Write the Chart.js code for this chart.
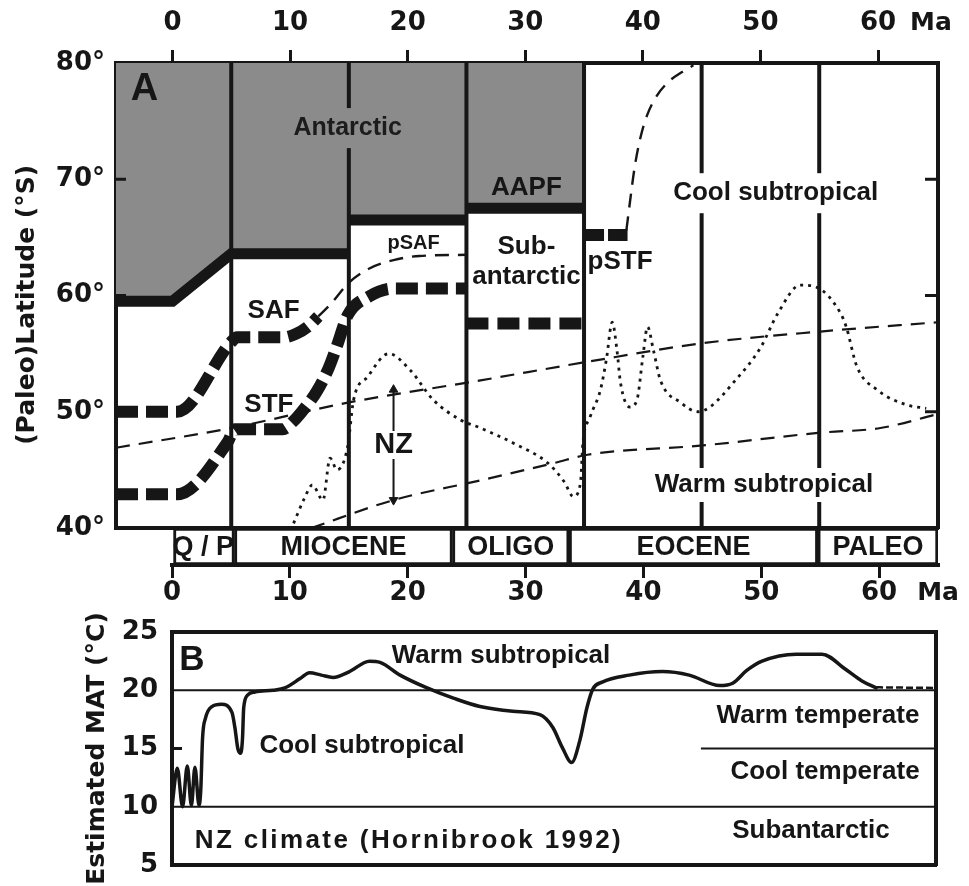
<!DOCTYPE html>
<html>
<head>
<meta charset="utf-8">
<title>Paleolatitude of Southern Ocean fronts and NZ climate</title>
<script src="https://cdn.jsdelivr.net/npm/chart.js@4.4.1/dist/chart.umd.min.js"></script>
<style>
  html, body { margin:0; padding:0; background:#fff; overflow:hidden; }
  #wrap { position:relative; width:969px; height:886px; overflow:hidden; background:#fff; }
  #wrap canvas { position:absolute; left:0; }
</style>
</head>
<body>
<div id="wrap">
  <canvas id="chartA" width="969" height="560" style="top:0px"></canvas>
  <canvas id="chartE" width="969" height="90" style="top:520px"></canvas>
  <canvas id="chartB" width="969" height="300" style="top:600px"></canvas>
</div>
<script>
// ================= DATA =================
// Panel A axes
const ageMinA = -4.8, ageMaxA = 65.1;
const topTicks = [0, 10, 20, 30, 40, 50, 60];
const latMin = 40, latMax = 80;
const latTicks = [40, 50, 60, 70, 80];
const zoneBoundAge = [5, 15, 25, 35, 45, 55];

// Antarctic water mass boundary (AAPF)
const antAge = [-4.8, 0, 5, 15, 15, 25, 25, 35];
const antLat = [59.5, 59.5, 63.6, 63.6, 66.5, 66.5, 67.5, 67.5];

// Subantarctic front (SAF)
const safAge = [-4.8, 0.4, 5.0, 5.5, 9.5, 10.5, 11.5, 12.4];
const safLat = [50.0, 50.0, 56.0, 56.4, 56.4, 56.7, 57.3, 58.2];
const saf2Age = [25, 35];
const saf2Lat = [57.6, 57.6];
// proto-SAF
const psafAge = [12.4, 13.4, 15.0, 16.7, 18.8, 21.0, 25.0];
const psafLat = [58.2, 59.2, 61.1, 62.3, 63.05, 63.4, 63.5];
// Subtropical front (STF)
const stfAge = [-4.8, 0.4, 4.7, 5.3, 9.4, 10.2, 11.0, 12.3, 13.3, 14.0, 14.9, 16.7, 18.8, 25.0];
const stfLat = [42.9, 42.9, 47.4, 48.5, 48.5, 49.1, 50.0, 51.8, 53.8, 55.7, 58.3, 59.9, 60.6, 60.6];
// proto-STF
const pstfAge = [35, 38.7];
const pstfLat = [65.2, 65.2];
const pstfThinAge = [38.6, 38.9, 39.3, 39.8, 40.4, 41.2, 42.2, 43.3, 44.3];
const pstfThinLat = [65.6, 68.0, 71.0, 73.6, 75.6, 77.2, 78.4, 79.2, 79.8];

// climate zone boundaries (thin dashed)
const upperAge = [-4.8, 5, 15, 26.2, 35.3, 45.1, 55.1, 65.1];
const upperLat = [46.9, 48.6, 50.8, 52.7, 54.3, 55.9, 56.9, 57.7];
const lowerAge = [11.8, 18.8, 26.2, 32.5, 35.3, 45.1, 55.1, 60.2, 65.1];
const lowerLat = [40.0, 42.4, 44.1, 45.6, 46.3, 47.1, 48.2, 48.6, 49.8];

// NZ paleolatitude (dotted)
const nzAge = [10.3, 11.2, 11.9, 12.8, 13.4, 14.0, 14.9, 15.4, 16.6, 18.4, 20.2, 22.2, 24.5, 26.2, 29.0, 31.9,
               33.3, 34.1, 34.7, 34.9, 35.5, 36.4, 36.9, 37.4, 37.8, 38.1, 38.9, 39.5, 40.0, 40.4, 40.9, 41.5,
               43.2, 44.7, 45.7, 47.7, 50.0, 51.5, 53.4, 54.8, 56.8, 57.3, 58.2, 59.9, 62.4, 64.1];
const nzLat = [40.4, 42.5, 43.7, 42.4, 46.0, 45.0, 47.0, 51.0, 53.0, 55.0, 53.6, 51.0, 49.3, 48.6, 47.3, 45.6,
               44.0, 42.7, 43.9, 47.3, 49.5, 51.9, 54.5, 57.7, 55.3, 52.5, 50.4, 51.0, 54.7, 57.3, 55.3, 52.7,
               50.8, 50.0, 50.4, 52.5, 55.5, 58.5, 60.9, 60.7, 58.5, 57.3, 53.9, 51.9, 50.6, 50.3];
// NZ span arrow
const nzArrowAge = [18.8, 18.8];
const nzArrowLat = [51.9, 42.4];

// Epochs
const epochName = ['Q / P', 'MIOCENE', 'OLIGO', 'EOCENE', 'PALEO'];
const epochStart = [0, 5.3, 23.8, 33.7, 54.8];
const epochEnd = [5.3, 23.8, 33.7, 54.8, 65];
const ageMinB = 0, ageMaxB = 65;

// Panel B
const matMin = 5, matMax = 25;
const matTicks = [5, 10, 15, 20, 25];
const classTemp = [20, 15, 10];
const classFrom = [0, 45, 0];
const matAge = [0, 0.45, 0.9, 1.3, 1.65, 1.95, 2.3, 2.45, 2.6, 2.85, 3.4, 4.2, 5.1, 5.35, 5.6, 5.85, 6.0, 6.1, 6.45, 7.05,
                8.6, 9.6, 10.9, 11.7, 12.7, 13.7, 15.1, 16.8, 17.7, 19.4, 21.7, 24.0, 26.2, 29.0, 31.3, 32.4, 33.2,
                34.0, 34.7, 35.3, 35.8, 36.6, 38.9, 41.7, 44.0, 46.6, 47.7, 48.9, 50.2, 53.1, 55.3, 57.3, 58.7, 59.9];
const matTemp = [10.0, 13.3, 10.0, 13.5, 10.1, 13.4, 10.1, 11.5, 15.9, 17.6, 18.6, 18.8, 18.1, 16.8, 15.0, 14.6, 15.9, 18.5, 19.6, 19.85,
                 20.0, 20.2, 21.0, 21.5, 21.3, 21.1, 21.6, 22.5, 22.4, 21.3, 20.2, 19.3, 18.6, 18.2, 17.9, 16.8, 15.1,
                 13.8, 15.7, 18.5, 20.1, 20.7, 21.3, 21.6, 21.3, 20.4, 20.6, 21.7, 22.5, 23.1, 23.1, 21.8, 20.8, 20.2];
const matTailAge = [59.9, 65];
const matTailTemp = [20.25, 20.2];

// ================= STYLE / HELPERS =================
const INK = '#161616';
const GRAY = '#8b8b8b';
const NUM_FONT = "'DejaVu Sans', sans-serif";
const WORD_FONT = "'Liberation Sans', Arial, Helvetica, sans-serif";
Chart.defaults.color = INK;
Chart.defaults.font.family = WORD_FONT;

function pts(xs, ys) { return xs.map((x, i) => ({ x: x, y: ys[i] })); }
function breakAtSteps(xs, ys) {
  const out = [];
  xs.forEach((x, i) => {
    if (i > 0 && x === xs[i - 1]) out.push({ x: x, y: null });
    out.push({ x: x, y: ys[i] });
  });
  return out;
}
function line(data, o) {
  return Object.assign({
    type: 'line', data: data, xAxisID: 'x', yAxisID: 'y',
    pointRadius: 0, pointHoverRadius: 0, fill: false,
    borderColor: INK, borderCapStyle: 'butt', borderJoinStyle: 'miter',
    cubicInterpolationMode: 'monotone', spanGaps: false
  }, o);
}

function annotate(items) {
  return {
    id: 'annotate',
    afterDatasetsDraw(chart) {
      const ctx = chart.ctx, xs = chart.scales.x, ys = chart.scales.y;
      items.forEach(it => {
        const px = xs.getPixelForValue(it.x), py = ys.getPixelForValue(it.y);
        ctx.save();
        ctx.font = 'bold ' + it.size + 'px ' + (it.family || WORD_FONT);
        if ('letterSpacing' in ctx) ctx.letterSpacing = (it.ls || 0) + 'px';
        ctx.textAlign = it.align || 'center';
        ctx.textBaseline = 'middle';
        if (it.bg) {
          const w = ctx.measureText(it.t).width + 12;
          const x0 = it.align === 'left' ? px - 6 : px - w / 2;
          ctx.fillStyle = it.bg;
          ctx.fillRect(x0, py - it.h / 2, w, it.h);
        }
        ctx.fillStyle = it.color || INK;
        ctx.fillText(it.t, px, py);
        ctx.restore();
      });
    }
  };
}
function inTicks(specs) {
  return {
    id: 'inTicks',
    afterDatasetsDraw(chart) {
      const ctx = chart.ctx, a = chart.chartArea;
      ctx.save();
      ctx.strokeStyle = INK; ctx.lineWidth = 3;
      specs.forEach(sp => {
        const s = chart.scales[sp.scale];
        sp.values.forEach(v => {
          const y = s.getPixelForValue(v);
          ctx.beginPath();
          if (sp.side === 'left') { ctx.moveTo(a.left, y); ctx.lineTo(a.left + sp.len, y); }
          else { ctx.moveTo(a.right, y); ctx.lineTo(a.right - sp.len, y); }
          ctx.stroke();
        });
      });
      ctx.restore();
    }
  };
}
function unitLabel(scaleId, value, text) {
  return {
    id: 'unitLabel',
    afterDraw(chart) {
      const s = chart.scales[scaleId], ctx = chart.ctx;
      const off = 13 + s.options.ticks.padding + 15.6;
      const y = s.position === 'top' ? s.bottom - off : s.top + off;
      ctx.save();
      ctx.font = 'bold 25px ' + NUM_FONT;
      ctx.fillStyle = INK; ctx.textAlign = 'center'; ctx.textBaseline = 'middle';
      ctx.fillText(text, s.getPixelForValue(value), y);
      ctx.restore();
    }
  };
}
// vertical axis title placed beside the y scale, centred at a given scale value
function sideTitle(text, xPix, atValue) {
  return {
    id: 'sideTitle',
    afterDraw(chart) {
      const ctx = chart.ctx, ys = chart.scales.y;
      ctx.save();
      ctx.translate(xPix, ys.getPixelForValue(atValue));
      ctx.rotate(-Math.PI / 2);
      ctx.font = 'bold 25px ' + NUM_FONT;
      ctx.fillStyle = INK; ctx.textAlign = 'center'; ctx.textBaseline = 'middle';
      ctx.fillText(text, 0, 0);
      ctx.restore();
    }
  };
}
const numFont = { family: NUM_FONT, size: 26, weight: 'bold' };
const borderOnly = { display: false };

// ================= PANEL A =================
const labelsA = [
  { t: 'A', x: -2.38, y: 77.76, size: 38 },
  { t: 'Antarctic', x: 14.9, y: 74.4, size: 25, color: '#1c1c1c', bg: GRAY, h: 40 },
  { t: 'AAPF', x: 30.1, y: 69.25, size: 26 },
  { t: 'pSAF', x: 20.5, y: 64.5, size: 20 },
  { t: 'Sub-', x: 30.1, y: 64.2, size: 26 },
  { t: 'antarctic', x: 30.1, y: 61.6, size: 26 },
  { t: 'pSTF', x: 35.3, y: 62.9, size: 26, align: 'left' },
  { t: 'Cool subtropical', x: 51.3, y: 68.8, size: 26, bg: '#fff', h: 40 },
  { t: 'SAF', x: 8.6, y: 58.67, size: 26 },
  { t: 'STF', x: 8.2, y: 50.58, size: 26 },
  { t: 'NZ', x: 18.8, y: 47.14, size: 29, bg: '#fff', h: 28 },
  { t: 'Warm subtropical', x: 50.3, y: 43.7, size: 26, bg: '#fff', h: 34 }
];

new Chart(document.getElementById('chartA'), {
  type: 'line',
  data: {
    datasets: [
      line(pts(antAge, antLat), { fill: 'end', backgroundColor: GRAY, borderWidth: 0, cubicInterpolationMode: 'default', tension: 0, order: 20 }),
      line(breakAtSteps(antAge, antLat), { borderWidth: 11, cubicInterpolationMode: 'default', tension: 0, order: 15 }),
      line(zoneBoundAge.flatMap(a => [{ x: a, y: latMin }, { x: a, y: latMax }, { x: a, y: null }]),
           { borderWidth: 4, cubicInterpolationMode: 'default', tension: 0, order: 14 }),
      line(pts(upperAge, upperLat), { borderWidth: 2.2, borderDash: [14, 9], order: 10 }),
      line(pts(lowerAge, lowerLat), { borderWidth: 2.2, borderDash: [14, 9], order: 10 }),
      line(pts(nzAge, nzLat), { borderWidth: 2.8, borderDash: [3, 5], order: 9 }),
      line(pts(psafAge, psafLat), { borderWidth: 2.4, borderDash: [14, 9], order: 8 }),
      line(pts(pstfThinAge, pstfThinLat), { borderWidth: 2.4, borderDash: [14, 9], order: 8 }),
      line(pts(safAge, safLat), { borderWidth: 12, borderDash: [22, 8], order: 5 }),
      line(pts(stfAge, stfLat), { borderWidth: 12, borderDash: [22, 8], order: 5 }),
      line(pts(saf2Age, saf2Lat), { borderWidth: 12, borderDash: [22, 9], order: 5 }),
      line(pts(pstfAge, pstfLat), { borderWidth: 12, borderDash: [20, 4], order: 5 }),
      line(pts(nzArrowAge, nzArrowLat), {
        borderWidth: 2, order: 4, cubicInterpolationMode: 'default', tension: 0,
        pointRadius: 5, pointStyle: 'triangle', pointRotation: [0, 180],
        pointBackgroundColor: INK, pointBorderColor: INK, pointBorderWidth: 1
      })
    ]
  },
  options: {
    responsive: false, animation: false, events: [],
    layout: { padding: 0 },
    plugins: { legend: { display: false }, tooltip: { enabled: false } },
    scales: {
      x: {
        type: 'linear', position: 'top', min: ageMinA, max: ageMaxA, z: 1,
        afterFit(s) { s.height = 63; },
        afterBuildTicks(s) { s.ticks = topTicks.map(v => ({ value: v })); },
        ticks: { font: numFont, color: INK, padding: 11, maxRotation: 0, autoSkip: false },
        grid: { display: true, drawOnChartArea: false, drawTicks: true, tickLength: 13, lineWidth: 3, color: INK },
        border: { display: true, width: 4, color: INK }
      },
      xb: {
        type: 'linear', position: 'bottom', min: ageMinA, max: ageMaxA, z: 1,
        afterFit(s) { s.height = 32; },
        ticks: { display: false }, grid: borderOnly,
        border: { display: true, width: 4, color: INK }
      },
      y: {
        type: 'linear', position: 'left', min: latMin, max: latMax, z: 1,
        afterFit(s) { s.width = 116; },
        afterBuildTicks(s) { s.ticks = latTicks.map(v => ({ value: v })); },
        ticks: { font: numFont, color: INK, padding: 11, callback: v => v + '°' },
        grid: { display: true, drawOnChartArea: false, drawTicks: false },
        border: { display: true, width: 4, color: INK }
      },
      yr: {
        type: 'linear', position: 'right', min: latMin, max: latMax, z: 1,
        afterFit(s) { s.width = 31; },
        ticks: { display: false }, grid: borderOnly,
        border: { display: true, width: 4, color: INK }
      }
    }
  },
  plugins: [
    annotate(labelsA),
    inTicks([{ scale: 'y', side: 'left', values: [50, 60, 70], len: 10 },
             { scale: 'y', side: 'right', values: [50, 60, 70], len: 13 }]),
    unitLabel('x', 64.5, 'Ma'),
    sideTitle('(Paleo)Latitude (°S)', 27, 59.2)
  ]
});

// ================= EPOCH BAND =================
new Chart(document.getElementById('chartE'), {
  type: 'bar',
  data: {
    labels: ['epoch'],
    datasets: epochName.map((n, i) => ({
      label: n, data: [[epochStart[i], epochEnd[i]]],
      xAxisID: 'x', yAxisID: 'y',
      backgroundColor: '#fff', borderColor: INK, borderWidth: 3, borderSkipped: false,
      grouped: false, categoryPercentage: 1, barPercentage: 1
    }))
  },
  options: {
    indexAxis: 'y', responsive: false, animation: false, events: [],
    layout: { padding: { left: 172, right: 31, top: 8, bottom: 0 } },
    plugins: { legend: { display: false }, tooltip: { enabled: false } },
    scales: {
      x: {
        type: 'linear', position: 'bottom', min: ageMinB, max: ageMaxB, z: 1,
        afterFit(s) { s.height = 45; },
        afterBuildTicks(s) { s.ticks = topTicks.map(v => ({ value: v })); },
        ticks: { font: numFont, color: INK, padding: 0, maxRotation: 0, autoSkip: false },
        grid: { display: true, drawOnChartArea: false, drawTicks: true, tickLength: 13, lineWidth: 3, color: INK },
        border: { display: true, width: 4, color: INK }
      },
      y: { type: 'category', display: false }
    }
  },
  plugins: [
    {
      id: 'epochLabels',
      afterDatasetsDraw(chart) {
        const ctx = chart.ctx, xs = chart.scales.x, a = chart.chartArea;
        ctx.save();
        ctx.font = 'bold 27px ' + WORD_FONT;
        ctx.fillStyle = INK; ctx.textAlign = 'center'; ctx.textBaseline = 'middle';
        epochName.forEach((n, i) => {
          ctx.fillText(n, xs.getPixelForValue((epochStart[i] + epochEnd[i]) / 2), (a.top + a.bottom) / 2 + 1);
        });
        ctx.restore();
      }
    },
    unitLabel('x', 65, 'Ma')
  ]
});

// ================= PANEL B =================
const labelsB = [
  { t: 'B', x: 1.70, y: 22.6, size: 35 },
  { t: 'Warm subtropical', x: 27.99, y: 22.94, size: 26 },
  { t: 'Cool subtropical', x: 16.16, y: 15.21, size: 26 },
  { t: 'Warm temperate', x: 54.96, y: 17.79, size: 26 },
  { t: 'Cool temperate', x: 55.56, y: 12.98, size: 26 },
  { t: 'Subantarctic', x: 54.36, y: 7.92, size: 26 },
  { t: 'NZ climate (Hornibrook 1992)', x: 20.16, y: 7.06, size: 26, ls: 2.4 }
];

new Chart(document.getElementById('chartB'), {
  type: 'line',
  data: {
    datasets: [
      line(classTemp.flatMap((t, i) => [{ x: classFrom[i], y: t }, { x: ageMaxB, y: t }, { x: ageMaxB, y: null }]),
           { borderWidth: 2, cubicInterpolationMode: 'default', tension: 0, order: 5 }),
      line(pts(matAge, matTemp), { borderWidth: 3.5, borderJoinStyle: 'round', borderCapStyle: 'round', order: 1 }),
      line(pts(matTailAge, matTailTemp), { borderWidth: 2.5, borderDash: [7, 3], order: 1 })
    ]
  },
  options: {
    responsive: false, animation: false, events: [],
    layout: { padding: 0 },
    plugins: { legend: { display: false }, tooltip: { enabled: false } },
    scales: {
      x: {
        type: 'linear', position: 'bottom', min: ageMinB, max: ageMaxB, z: 1,
        afterFit(s) { s.height = 35; },
        ticks: { display: false }, grid: borderOnly,
        border: { display: true, width: 4, color: INK }
      },
      xt: {
        type: 'linear', position: 'top', min: ageMinB, max: ageMaxB, z: 1,
        afterFit(s) { s.height = 32; },
        ticks: { display: false }, grid: borderOnly,
        border: { display: true, width: 4, color: INK }
      },
      y: {
        type: 'linear', position: 'left', min: matMin, max: matMax, z: 1,
        afterFit(s) { s.width = 172; },
        afterBuildTicks(s) { s.ticks = matTicks.map(v => ({ value: v })); },
        ticks: { font: numFont, color: INK, padding: 14 },
        grid: { display: true, drawOnChartArea: false, drawTicks: false },
        border: { display: true, width: 4, color: INK },
        title: { display: true, text: 'Estimated MAT (°C)', color: INK,
                 font: { family: NUM_FONT, size: 25, weight: 'bold' }, padding: { top: 82, bottom: 0 } }
      },
      yr: {
        type: 'linear', position: 'right', min: matMin, max: matMax, z: 1,
        afterFit(s) { s.width = 33; },
        ticks: { display: false }, grid: borderOnly,
        border: { display: true, width: 4, color: INK }
      }
    }
  },
  plugins: [
    annotate(labelsB),
    inTicks([{ scale: 'y', side: 'left', values: [15], len: 10 }])
  ]
});
</script>
</body>
</html>
